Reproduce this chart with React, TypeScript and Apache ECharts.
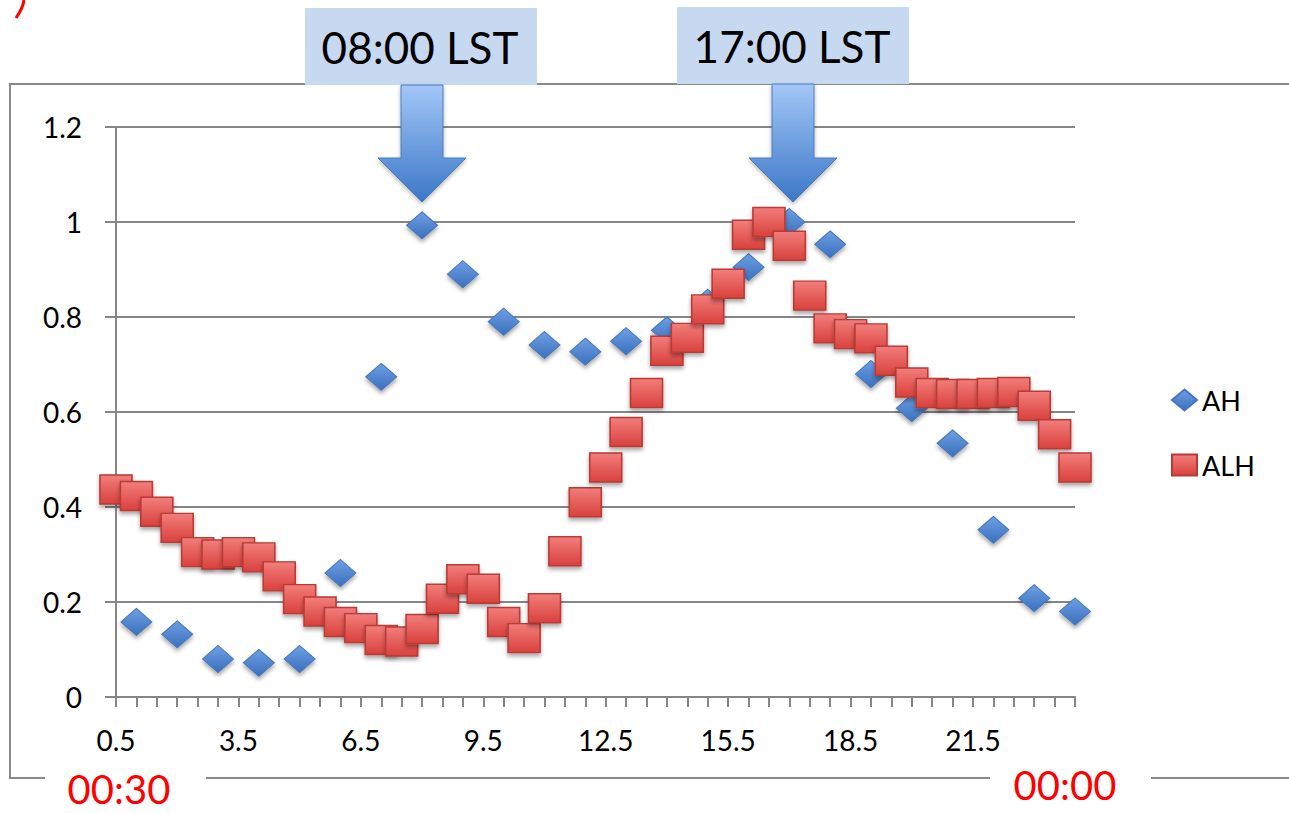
import React, { useEffect, useRef } from 'react';
import * as echarts from 'echarts';

// Half-hour categories (hours, LST)
const categories = [
  '0.5', '1', '1.5', '2', '2.5', '3', '3.5', '4', '4.5', '5', '5.5', '6',
  '6.5', '7', '7.5', '8', '8.5', '9', '9.5', '10', '10.5', '11', '11.5', '12',
  '12.5', '13', '13.5', '14', '14.5', '15', '15.5', '16', '16.5', '17', '17.5', '18',
  '18.5', '19', '19.5', '20', '20.5', '21', '21.5', '22', '22.5', '23', '23.5', '24',
];

// AH: hourly values (null on half hours)
const ahValues = [
  null, 0.158, null, 0.132, null, 0.08, null, 0.072, null, 0.08, null, 0.261,
  null, 0.674, null, 0.993, null, 0.89, null, 0.79, null, 0.741, null, 0.727,
  null, 0.749, null, 0.772, null, 0.83, null, 0.905, null, 1.0, null, 0.953,
  null, 0.68, null, 0.608, null, 0.534, null, 0.352, null, 0.208, null, 0.18,
];

// ALH: half-hourly values
const alhValues = [
  0.437, 0.423, 0.39, 0.356, 0.305, 0.3, 0.305, 0.294, 0.254, 0.206, 0.18, 0.158,
  0.145, 0.12, 0.117, 0.143, 0.207, 0.248, 0.228, 0.158, 0.124, 0.187, 0.307, 0.41,
  0.483, 0.558, 0.64, 0.729, 0.756, 0.816, 0.87, 0.973, 1.0, 0.95, 0.845, 0.776,
  0.764, 0.755, 0.708, 0.662, 0.64, 0.638, 0.638, 0.64, 0.642, 0.613, 0.553, 0.483,
];

const seriesNames = ['AH', 'ALH'];
const markerLabels = ['08:00 LST', '17:00 LST'];
const cornerLabels = ['00:30', '00:00'];

const FONT = 'Lato, "Open Sans", sans-serif';
const GRID = '#868686';

function arrow(x: number, top: number) {
  return {
    type: 'polygon',
    z: 100,
    shape: {
      points: [
        [x - 21, top], [x + 21, top], [x + 21, 158], [x + 44, 158],
        [x, 202], [x - 44, 158], [x - 21, 158],
      ],
    },
    style: {
      fill: new echarts.graphic.LinearGradient(0, 0, 0, 1, [
        { offset: 0, color: '#A3C7F7' },
        { offset: 1, color: '#3B77C6' },
      ]),
      stroke: '#4A7EBB',
      lineWidth: 1,
      shadowBlur: 4,
      shadowColor: 'rgba(0,0,0,0.3)',
      shadowOffsetY: 2,
    },
  };
}

export default function App() {
  const ref = useRef<HTMLDivElement>(null);

  useEffect(() => {
    const chart = echarts.init(ref.current!, null, { renderer: 'svg' });

    const ahData = categories
      .map((c, i) => [c, ahValues[i]])
      .filter((d) => d[1] !== null);
    const alhData = categories.map((c, i) => [c, alhValues[i]]);

    const option = {
      animation: false,
      backgroundColor: '#fff',
      grid: { left: 116, right: 214, top: 127, bottom: 116, containLabel: false },
      legend: {
        orient: 'vertical',
        left: 1166,
        top: 381,
        itemWidth: 25,
        itemHeight: 21,
        itemGap: 37,
        textStyle: { fontFamily: FONT, fontSize: 27, color: '#000', lineHeight: 28 },
        data: [
          { name: seriesNames[0], icon: 'diamond' },
          { name: seriesNames[1], icon: 'rect' },
        ],
      },
      xAxis: {
        type: 'category',
        data: categories,
        boundaryGap: false,
        axisLine: { show: true, lineStyle: { color: GRID, width: 2 } },
        axisTick: { show: true, interval: 0, length: 10, lineStyle: { color: GRID, width: 2 } },
        axisLabel: { interval: 5, fontFamily: FONT, fontSize: 28, color: '#000', margin: 29 },
        splitLine: { show: false },
      },
      yAxis: {
        type: 'value',
        min: 0,
        max: 1.2,
        interval: 0.2,
        axisLine: { show: true, lineStyle: { color: GRID, width: 2 } },
        axisTick: { show: true, length: 11, lineStyle: { color: GRID, width: 2 } },
        axisLabel: { fontFamily: FONT, fontSize: 28, color: '#000', margin: 34 },
        splitLine: { show: true, lineStyle: { color: GRID, width: 2 } },
      },
      series: [
        {
          name: seriesNames[0],
          type: 'scatter',
          symbol: 'diamond',
          symbolSize: [31, 27],
          data: ahData,
          itemStyle: {
            opacity: 1,
            color: new echarts.graphic.LinearGradient(0, 0, 0, 1, [
              { offset: 0, color: '#6E9FE3' },
              { offset: 1, color: '#3A70BE' },
            ]),
            borderColor: '#4677B8',
            borderWidth: 1,
            shadowBlur: 4,
            shadowColor: 'rgba(0,0,0,0.35)',
            shadowOffsetY: 3,
          },
        },
        {
          name: seriesNames[1],
          type: 'scatter',
          symbol: 'rect',
          symbolSize: [32, 29],
          data: alhData,
          itemStyle: {
            opacity: 1,
            color: new echarts.graphic.LinearGradient(0, 0, 0, 1, [
              { offset: 0, color: '#F27E7B' },
              { offset: 1, color: '#D9413D' },
            ]),
            borderColor: '#B83A36',
            borderWidth: 1.5,
            shadowBlur: 4,
            shadowColor: 'rgba(0,0,0,0.35)',
            shadowOffsetY: 3,
          },
        },
      ],
      graphic: [
        // outer chart frame
        {
          type: 'rect',
          z: 50,
          shape: { x: 10, y: 84, width: 1400, height: 694 },
          style: { fill: 'none', stroke: '#8A8A8A', lineWidth: 2 },
        },
        // gaps in bottom frame behind red labels
        { type: 'rect', z: 51, shape: { x: 45, y: 770, width: 161, height: 16 }, style: { fill: '#fff' } },
        { type: 'rect', z: 51, shape: { x: 990, y: 770, width: 161, height: 16 }, style: { fill: '#fff' } },
        {
          type: 'text', z: 52, x: 119, y: 789,
          style: { text: cornerLabels[0], fill: '#FF0000', font: `40px ${FONT}`, align: 'center', verticalAlign: 'middle' },
        },
        {
          type: 'text', z: 52, x: 1065, y: 785,
          style: { text: cornerLabels[1], fill: '#FF0000', font: `40px ${FONT}`, align: 'center', verticalAlign: 'middle' },
        },
        // cut-off red bracket stroke at top-left (fragment of an outside label)
        {
          type: 'bezierCurve',
          z: 52,
          shape: { x1: 24, y1: 0, cpx1: 23, cpy1: 8, x2: 16, y2: 18 },
          style: { stroke: '#FF0000', lineWidth: 3, fill: 'none' },
        },
        // label boxes
        { type: 'rect', z: 60, shape: { x: 305, y: 8, width: 232, height: 77 }, style: { fill: '#C6D9F1' } },
        { type: 'rect', z: 60, shape: { x: 677, y: 7, width: 232, height: 77 }, style: { fill: '#C6D9F1' } },
        {
          type: 'text', z: 61, x: 420, y: 47,
          style: { text: markerLabels[0], fill: '#000', font: `44px ${FONT}`, align: 'center', verticalAlign: 'middle' },
        },
        {
          type: 'text', z: 61, x: 792, y: 46,
          style: { text: markerLabels[1], fill: '#000', font: `44px ${FONT}`, align: 'center', verticalAlign: 'middle' },
        },
        arrow(422, 85),
        arrow(793, 84),
      ],
    };

    chart.setOption(option as any);
    return () => chart.dispose();
  }, []);

  return (
    <div
      ref={ref}
      style={{ position: 'absolute', left: 0, top: 0, width: 1289, height: 813, background: '#fff' }}
    />
  );
}
